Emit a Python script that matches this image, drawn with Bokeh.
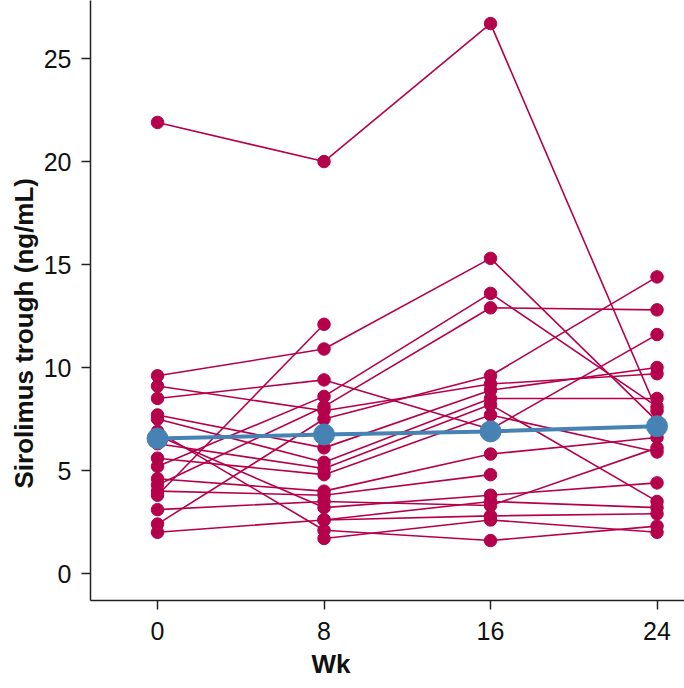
import math
from bokeh.plotting import figure
from bokeh.models import Title, FixedTicker
from bokeh.embed import file_html
from bokeh.resources import INLINE

weeks = [0, 8, 16, 24]
nan = float("nan")

# one entry per patient (NaN = missing visit)
wk0 = [21.9, 9.6, 3.8, 5.2, 4.3, 9.1, 8.5, 2.4, 7.7, 7.5, 6.3, 5.6, 4.6, 4.0, 3.1, 6.7, 2.0, nan, nan, 6.9]
wk8 = [20.0, 10.9, 12.1, 8.6, 8.1, 7.9, 9.4, 7.5, 6.1, 5.4, 5.1, 4.8, 4.0, 3.8, 3.5, 3.2, 2.6, 2.6, 1.7, 2.1]
wk16 = [26.7, 15.3, nan, 13.6, 12.9, 9.2, 7.0, 9.6, 8.9, 8.5, 8.2, 7.7, 5.8, 4.8, 3.3, 3.8, 3.5, 2.8, 2.6, 1.6]
wk24 = [7.9, 7.4, nan, 8.1, 12.8, 9.7, 11.6, 14.4, 10.0, 8.5, 3.5, 5.9, 6.6, nan, 6.1, 4.4, 3.2, 2.9, 2.0, 2.3]

mean_vals = [6.55, 6.75, 6.9, 7.15]
y_ticks = [0, 5, 10, 15, 20, 25]

RED = "#B5004B"
BLUE = "#4682B4"

p = figure(width=684, height=688, output_backend="svg", toolbar_location=None,
           x_range=(-3.22, 25.32), y_range=(-1.31, 27.82),
           min_border_left=90, min_border_right=0, min_border_top=0, min_border_bottom=88)

xs, ys, px, py = [], [], [], []
for i in range(len(wk0)):
    vals = [wk0[i], wk8[i], wk16[i], wk24[i]]
    xs.append(weeks)
    ys.append(vals)
    for w, v in zip(weeks, vals):
        if not math.isnan(v):
            px.append(w)
            py.append(v)

p.multi_line(xs=xs, ys=ys, line_color=RED, line_width=1.6)
p.scatter(px, py, size=12.5, fill_color=RED, line_color=RED)
p.line(weeks, mean_vals, line_color=BLUE, line_width=4)
p.scatter(weeks, mean_vals, size=21, fill_color=BLUE, line_color=BLUE)

p.outline_line_color = None
p.xgrid.visible = False
p.ygrid.visible = False
p.background_fill_color = "white"
p.border_fill_color = "white"

for ax in (p.xaxis[0], p.yaxis[0]):
    ax.axis_line_color = "#222222"
    ax.axis_line_width = 1.5
    ax.major_tick_line_color = "#222222"
    ax.major_tick_line_width = 1.5
    ax.major_tick_out = 9
    ax.major_tick_in = 0
    ax.minor_tick_line_color = None
    ax.major_label_text_font = "Liberation Sans"
    ax.major_label_text_font_size = "25px"
    ax.major_label_text_color = "#111111"

p.xaxis.ticker = FixedTicker(ticks=weeks)
p.yaxis.ticker = FixedTicker(ticks=y_ticks)
p.xaxis.major_label_standoff = 12
p.yaxis.major_label_standoff = 10

p.add_layout(Title(text="Wk", align="left", offset=221, standoff=8,
                   text_font="Liberation Sans", text_font_style="bold",
                   text_font_size="26px", text_color="#111111"), "below")
p.add_layout(Title(text="Sirolimus trough (ng/mL)", align="left", offset=112, standoff=4,
                   text_font="Liberation Sans", text_font_style="bold",
                   text_font_size="26px", text_color="#111111"), "left")

open("out.html", "w").write(file_html(p, INLINE))
